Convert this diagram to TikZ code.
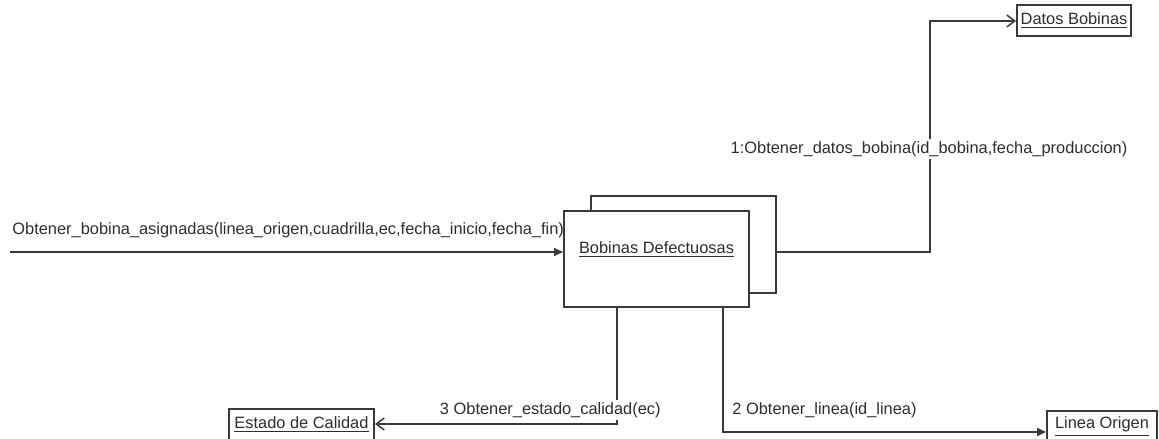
\documentclass[tikz,border=0pt]{standalone}
\usepackage{fontspec}
\setmainfont{Liberation Sans}
\usetikzlibrary{arrows.meta}
\definecolor{trazo}{HTML}{3A3A3A}
\definecolor{texto}{HTML}{2E2E2E}
\tikzset{
  objeto/.style={draw=trazo, line width=1pt, fill=white, inner sep=0pt,
    text=texto, font=\fontsize{8.2}{9.8}\selectfont},
  mensaje/.style={text=texto, font=\fontsize{8.2}{9.8}\selectfont, inner sep=1pt},
  flechaLlena/.style={draw=trazo, line width=0.75pt, -{Triangle[length=4.5pt,width=4pt]}},
  flechaAbierta/.style={draw=trazo, line width=0.75pt, -{Straight Barb[length=4pt,width=6pt]}},
}
\begin{document}
\begin{tikzpicture}[x=0.5pt,y=-0.5pt]
    \useasboundingbox (0,0) rectangle (1159,438);

    % Objeto multiple
    \node[objeto, minimum width=92.5pt, minimum height=48.5pt] (bobinasFondo) at (683.5,244.5) {};
    \node[objeto, minimum width=92.5pt, minimum height=48pt] (bobinas) at (656.5,259) {};
    \node[mensaje] (nombreBobinas) at (656.5,250) {\underline{Bobinas Defectuosas}};

    % Objetos consultados
    \node[objeto, minimum width=57pt, minimum height=15.5pt] (datos) at (1074,20.5) {\underline{Datos Bobinas}};
    \node[objeto, minimum width=72.5pt, minimum height=15.5pt] (estado) at (301.5,424.5) {\underline{Estado de Calidad}};
    \node[objeto, minimum width=55pt, minimum height=15.5pt] (linea) at (1102,426.5) {\underline{Linea Origen}};

    % Mensaje de entrada
    \coordinate (entrada) at (10,252);
    \draw[flechaLlena] (entrada) -- (entrada -| bobinas.west);
    \node[mensaje, anchor=west] (msgEntrada) at (10,230)
        {Obtener\_bobina\_asignadas(linea\_origen,cuadrilla,ec,fecha\_inicio,fecha\_fin)};

    % 1: datos de la bobina
    \coordinate (c1) at (930,21);
    \draw[flechaAbierta] (bobinasFondo.east |- entrada) -| (c1) -- (c1 -| datos.west);
    \node[mensaje, fill=white] (msg1) at (929,149)
        {1:Obtener\_datos\_bobina(id\_bobina,fecha\_produccion)};

    % 2: linea de origen
    \coordinate (c2) at (723,432);
    \draw[flechaLlena] (c2 |- bobinas.south) -- (c2) -- (c2 -| linea.west);
    \node[mensaje, anchor=west] (msg2) at (730,410) {2 Obtener\_linea(id\_linea)};

    % 3: estado de calidad
    \coordinate (c3) at (617,424);
    \draw[flechaAbierta] (c3 |- bobinas.south) -- (c3) -- (c3 -| estado.east);
    \node[mensaje, anchor=east, fill=white] (msg3) at (663,410) {3 Obtener\_estado\_calidad(ec)};
\end{tikzpicture}
\end{document}
